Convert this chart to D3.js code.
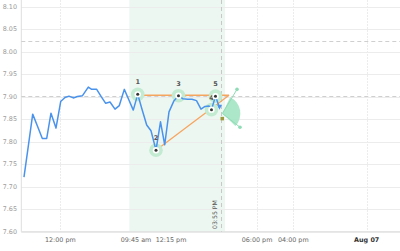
<!DOCTYPE html>
<html><head><meta charset="utf-8">
<script src="https://cdn.jsdelivr.net/npm/d3@7"></script>
<style>html,body{margin:0;padding:0;background:#fff;}svg{display:block;}</style>
</head><body>
<svg id="c" width="400" height="251"></svg>
<script>
// ---- data ----
const times = [0.71,1.85,3.01,4.28,5.55,6.71,7.84,9.16,10.40,11.54,12.59,13.73,14.79,16.16,17.69,18.59,19.91,21.10,22.29,23.42,24.74,25.88,27.20,28.39,29.57,30.74,31.87,33.11,34.25,35.57,36.76,37.87,39.00,40.27,41.51,42.70,43.89,45.08,46.26,47.45,48.51,49.56,50.22,51.28,52.34];
const values = [7.721,7.790,7.861,7.834,7.807,7.807,7.863,7.830,7.889,7.898,7.901,7.897,7.900,7.902,7.921,7.916,7.916,7.900,7.885,7.888,7.872,7.880,7.916,7.893,7.870,7.905,7.872,7.837,7.824,7.781,7.844,7.793,7.866,7.890,7.902,7.895,7.894,7.894,7.891,7.872,7.878,7.879,7.871,7.901,7.875];
const pivotIdx = [25,29,34,42,43];
const pivotLabels = ["1","2","3","4","5"];
const yTicks = [7.60,7.65,7.70,7.75,7.80,7.85,7.90,7.95,8.00,8.05,8.10];
const xTickPos = [10.30,30.29,39.53,62.24,71.82,91.21];
const xTickLabels = ["12:00 pm","09:45 am","12:15 pm","06:00 pm","04:00 pm","Aug 07"];
const xTickBold = [false,false,false,false,false,true];
const bandRange = [28.52,53.79];
const markerTime = 52.65;
const markerLabel = "03:55 PM";
const hLevels = [8.024,7.902];
const resistance = [[30.74,7.903],[54.85,7.903]];
const support = [[35.57,7.781],[54.85,7.903]];
const fanCenter = [53.1,7.8625];
const fanUp = [56.96,7.916];
const fanDown = [57.75,7.832];
const targetBox = [53.0,7.8505];

// ---- layout ----
const W=400,H=251, L=21.3, R=400, B=231.7, T=0;
const svg=d3.select("#c");
const x=d3.scaleLinear().domain([0,100]).range([L,R]);
const y=d3.scaleLinear().domain([7.60,8.10]).range([B,6.5]);
const font="DejaVu Sans, Verdana, sans-serif";

// band
svg.append("rect").attr("x",x(bandRange[0])).attr("y",T)
  .attr("width",x(bandRange[1])-x(bandRange[0])).attr("height",B-T).attr("fill","#edf7f2");

// horizontal grid
svg.append("g").selectAll("line").data(yTicks).join("line")
  .attr("x1",L).attr("x2",R).attr("y1",d=>Math.round(y(d))+0.5).attr("y2",d=>Math.round(y(d))+0.5)
  .attr("stroke","#ececec").attr("stroke-width",1);
// vertical grid
svg.append("g").selectAll("line").data(xTickPos.filter((d,i)=>i!==1&&i!==2)).join("line")
  .attr("x1",d=>Math.round(x(d))+0.5).attr("x2",d=>Math.round(x(d))+0.5).attr("y1",T).attr("y2",B)
  .attr("stroke","#ececec").attr("stroke-dasharray","2,1");

// axes lines
svg.append("line").attr("x1",L).attr("x2",L).attr("y1",T).attr("y2",B).attr("stroke","#dedede");
svg.append("line").attr("x1",L).attr("x2",R).attr("y1",B).attr("y2",B).attr("stroke","#dedede");

// y labels
svg.append("g").selectAll("text").data(yTicks).join("text")
  .attr("x",17).attr("y",d=>y(d)+2.3).attr("text-anchor","end")
  .attr("font-family",font).attr("font-size",6.4).attr("fill","#999")
  .text(d=>d.toFixed(2));
// x labels
svg.append("g").selectAll("text").data(xTickPos).join("text")
  .attr("x",d=>x(d)).attr("y",241.5).attr("text-anchor","middle")
  .attr("font-family",font).attr("font-size",6.4)
  .attr("font-weight",(d,i)=>xTickBold[i]?"bold":"normal")
  .attr("fill",(d,i)=>xTickBold[i]?"#333":"#666")
  .text((d,i)=>xTickLabels[i]);

// dashed levels
svg.append("g").selectAll("line").data(hLevels).join("line")
  .attr("x1",L).attr("x2",R).attr("y1",d=>Math.round(y(d))+0.5).attr("y2",d=>Math.round(y(d))+0.5)
  .attr("stroke","#cfcfcf").attr("stroke-dasharray","4,3");
// vertical marker line
svg.append("line").attr("x1",Math.round(x(markerTime))+0.5).attr("x2",Math.round(x(markerTime))+0.5)
  .attr("y1",T).attr("y2",B).attr("stroke","#c8c8c8").attr("stroke-dasharray","4,3");
svg.append("text").attr("transform",`translate(${x(markerTime)-3.5},${229}) rotate(-90)`)
  .attr("font-family",font).attr("font-size",6.2).attr("fill","#555").text(markerLabel);

// fan sector
const cx=x(fanCenter[0]), cy=y(fanCenter[1]);
const ang=p=>Math.atan2(x(p[0])-cx, -(y(p[1])-cy)); // d3.arc angle: 0 = up, clockwise
svg.append("path").attr("transform",`translate(${cx},${cy})`)
  .attr("d",d3.arc()({innerRadius:0,outerRadius:18,startAngle:ang(fanUp)-0.1,endAngle:ang(fanDown)+0.1}))
  .attr("fill","#a3e4c3").attr("opacity",0.9);
[fanUp,fanDown].forEach(p=>{
  svg.append("line").attr("x1",cx).attr("y1",cy).attr("x2",x(p[0])).attr("y2",y(p[1]))
    .attr("stroke","#8fdcb6").attr("stroke-width",1);
  svg.append("circle").attr("cx",x(p[0])).attr("cy",y(p[1])).attr("r",1.8).attr("fill","#8fdcb6");
});

// pattern lines
const ln=d3.line().x(d=>x(d[0])).y(d=>y(d[1]));
[resistance,support].forEach(s=>svg.append("path").attr("d",ln(s)).attr("fill","none")
  .attr("stroke","#f6a55e").attr("stroke-width",1.3));

// halos
const piv=pivotIdx.map((k,i)=>({t:times[k],v:values[k],lab:pivotLabels[i]}));
svg.append("g").selectAll("circle").data(piv).join("circle")
  .attr("cx",d=>x(d.t)).attr("cy",d=>y(d.v)).attr("r",6.8).attr("fill","#c3ebd2");

// series line
const line=d3.line().x((d,i)=>x(times[i])).y(d=>y(d));
svg.append("path").attr("d",line(values)).attr("fill","none")
  .attr("stroke","#4a93ec").attr("stroke-width",1.5).attr("stroke-linejoin","round");
// end arrow
const ex=x(times[times.length-1]), ey=y(values[values.length-1]);
svg.append("path").attr("d",`M${ex-2.5},${ey-3}L${ex+2.5},${ey-3}L${ex},${ey+2}Z`).attr("fill","#4a93ec");
// target box
svg.append("rect").attr("x",x(targetBox[0])-1.5).attr("y",y(targetBox[1])-2).attr("width",3.5).attr("height",3.5)
  .attr("fill","#9c9a3c");

// pivot markers
const g=svg.append("g").selectAll("g").data(piv).join("g")
  .attr("transform",d=>`translate(${x(d.t)},${y(d.v)})`);
g.append("circle").attr("r",3.2).attr("fill","#fff");
g.append("circle").attr("r",1.5).attr("fill","#333");
g.append("text").attr("y",-10).attr("text-anchor","middle")
  .attr("font-family",font).attr("font-size",6.5).attr("font-weight","bold").attr("fill","#555")
  .text(d=>d.lab);
</script>
</body></html>
